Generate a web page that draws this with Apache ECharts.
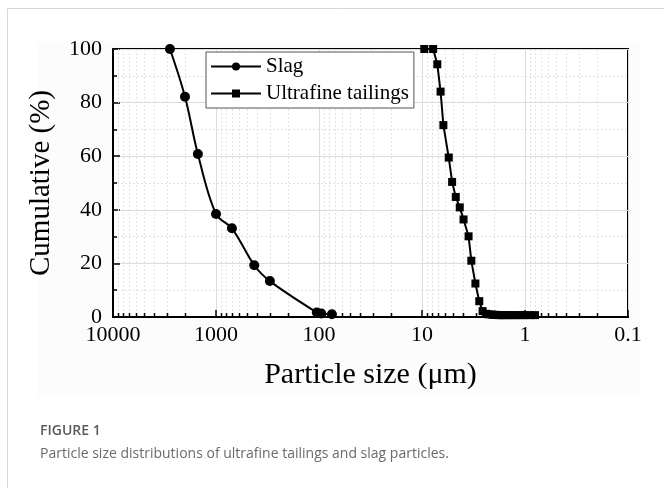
<!DOCTYPE html>
<html>
<head>
<meta charset="utf-8">
<script src="https://cdn.jsdelivr.net/npm/echarts@6/dist/echarts.min.js"></script>
<style>
  html, body { margin: 0; padding: 0; background: #ffffff; }
  #chart { width: 664px; height: 488px; }
</style>
</head>
<body>
<div id="chart"></div>
<script>
// Slag: particle size (µm) vs cumulative (%)
const slagSize = [2800, 2000, 1500, 1000, 700, 425, 300, 105, 95, 75];
const slagCum  = [100, 82.2, 60.8, 38.4, 33.1, 19.3, 13.4, 1.7, 1.3, 1.0];

// Ultrafine tailings: particle size (µm) vs cumulative (%)
const tailSize = [9.5, 7.8, 7.1, 6.6, 6.2, 5.5, 5.1, 4.7, 4.3, 3.95, 3.53, 3.32, 3.03, 2.78, 2.58,
                  2.4, 2.25, 2.1, 2.0, 1.9, 1.8, 1.7, 1.6, 1.5, 1.4, 1.3, 1.2, 1.1, 1.0, 0.9, 0.8];
const tailCum  = [100, 100, 94.3, 84.1, 71.6, 59.5, 50.4, 44.8, 40.9, 36.4, 30.1, 21.0, 12.5, 5.9, 2.2,
                  1.2, 1.0, 0.9, 0.8, 0.8, 0.7, 0.7, 0.7, 0.7, 0.7, 0.7, 0.7, 0.7, 0.7, 0.7, 0.7];

// Axis tick labels
const xTickValues = [10000, 1000, 100, 10, 1, 0.1];
const xTickLabels = ['10000', '1000', '100', '10', '1', '0.1'];
const yTickLabels = ['0', '20', '40', '60', '80', '100'];

// Log-axis minor positions (2..9 of every decade)
const minorX = [];
[0.1, 1, 10, 100, 1000].forEach(function (d) {
  for (let k = 2; k <= 9; k++) minorX.push(+(d * k).toPrecision(6));
});

const serif = '"Liberation Serif", "Times New Roman", serif';
const chart = echarts.init(document.getElementById('chart'), null, { renderer: 'canvas' });

chart.setOption({
  backgroundColor: '#ffffff',
  animation: false,
  graphic: [
    {
      type: 'rect', silent: true, z: -10,
      shape: { x: 7.5, y: 8.5, width: 700, height: 520 },
      style: { fill: 'none', stroke: '#d6d6d6', lineWidth: 1 }
    },
    {
      type: 'rect', silent: true, z: -9,
      shape: { x: 38, y: 42, width: 602, height: 355 },
      style: { fill: '#fcfcfc' }
    },
    {
      type: 'text', left: 40, top: 424,
      style: { text: 'FIGURE 1', font: '600 14px "Open Sans", Lato, sans-serif', fill: '#5a5a5a' }
    },
    {
      type: 'text', left: 40, top: 447,
      style: { text: 'Particle size distributions of ultrafine tailings and slag particles.',
               font: '14px "Open Sans", Lato, sans-serif', fill: '#6a6a6a' }
    }
  ],
  grid: {
    left: 113, right: 36, top: 49, bottom: 171,
    show: true, borderColor: '#000', borderWidth: 2, backgroundColor: '#ffffff'
  },
  legend: {
    left: 206, top: 52,
    orient: 'vertical',
    backgroundColor: '#ffffff',
    borderColor: '#555', borderWidth: 1,
    padding: [4, 5, 4, 4],
    itemGap: 6,
    itemWidth: 50, itemHeight: 10,
    textStyle: { fontFamily: serif, fontSize: 21, color: '#000' },
    data: ['Slag', 'Ultrafine tailings']
  },
  xAxis: {
    type: 'log', logBase: 10,
    min: 0.1, max: 10000,
    inverse: true,
    name: 'Particle size (μm)',
    nameLocation: 'middle', nameGap: 43,
    nameMoveOverlap: false,
    nameTextStyle: { fontFamily: serif, fontSize: 30, color: '#000' },
    axisLine: { show: true, onZero: false, lineStyle: { color: '#000', width: 2 } },
    axisTick: { show: true, inside: true, length: 7, lineStyle: { color: '#000', width: 1.5 } },
    axisLabel: {
      fontFamily: serif, fontSize: 22, color: '#000', margin: 7,
      formatter: function (v) {
        const i = xTickValues.findIndex(function (t) { return Math.abs(Math.log10(t) - Math.log10(v)) < 1e-6; });
        return i >= 0 ? xTickLabels[i] : '';
      }
    },
    splitLine: { show: true, lineStyle: { color: '#dcdcdc', width: 1 } }
  },
  yAxis: {
    type: 'value',
    min: 0, max: 100, interval: 20,
    name: 'Cumulative (%)',
    nameLocation: 'middle', nameGap: 57,
    nameMoveOverlap: false,
    nameTextStyle: { fontFamily: serif, fontSize: 29, color: '#000' },
    axisLine: { show: true, lineStyle: { color: '#000', width: 2 } },
    axisTick: { show: true, inside: true, length: 7, lineStyle: { color: '#000', width: 1.5 } },
    minorTick: { show: true, splitNumber: 2, length: 4, lineStyle: { color: '#000', width: 1.5 } },
    axisLabel: {
      fontFamily: serif, fontSize: 22, color: '#000', margin: 11,
      formatter: function (v) { return yTickLabels[Math.round(v / 20)]; }
    },
    splitLine: { show: true, lineStyle: { color: '#dcdcdc', width: 1 } },
    minorSplitLine: { show: true, lineStyle: { color: '#e2e2e2', width: 1, type: [2, 2] } }
  },
  series: [
    {
      // minor log grid lines and ticks
      type: 'custom',
      silent: true,
      z: 1,
      data: minorX.map(function (v) { return [v, 0]; }),
      renderItem: function (params, api) {
        const cs = params.coordSys;
        const x = Math.round(api.coord([api.value(0), 0])[0]) + 0.5;
        return {
          type: 'group',
          children: [
            {
              type: 'line',
              shape: { x1: x, y1: cs.y, x2: x, y2: cs.y + cs.height },
              style: { stroke: '#e2e2e2', lineWidth: 1, lineDash: [2, 2] }
            },
            {
              type: 'line',
              shape: { x1: x, y1: cs.y + cs.height, x2: x, y2: cs.y + cs.height - 4 },
              style: { stroke: '#000', lineWidth: 1.5 }
            }
          ]
        };
      }
    },
    {
      name: 'Slag',
      type: 'line',
      z: 5,
      smooth: 0.35,
      data: slagSize.map(function (s, i) { return [s, slagCum[i]]; }),
      symbol: 'circle', symbolSize: 10,
      lineStyle: { color: '#000', width: 2 },
      itemStyle: { color: '#000' }
    },
    {
      name: 'Ultrafine tailings',
      type: 'line',
      z: 5,
      data: tailSize.map(function (s, i) { return [s, tailCum[i]]; }),
      symbol: 'rect', symbolSize: 8,
      lineStyle: { color: '#000', width: 2 },
      itemStyle: { color: '#000' }
    }
  ]
});
</script>
</body>
</html>
